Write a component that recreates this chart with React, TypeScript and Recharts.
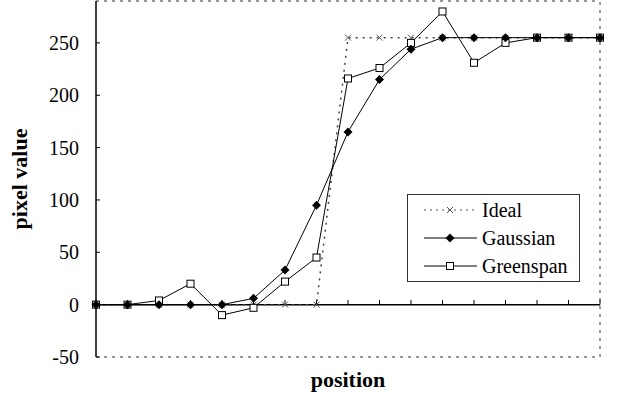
import { LineChart, Line, XAxis, YAxis, ReferenceLine } from "recharts";

const positions = [1, 2, 3, 4, 5, 6, 7, 8, 9, 10, 11, 12, 13, 14, 15, 16, 17];
const ideal = [0, 0, 0, 0, 0, 0, 0, 0, 255, 255, 255, 255, 255, 255, 255, 255, 255];
const gaussian = [0, 0, 0, 0, 0, 6, 33, 95, 165, 215, 244, 255, 255, 255, 255, 255, 255];
const greenspan = [0, 0, 4, 20, -10, -3, 22, 45, 216, 226, 250, 280, 231, 250, 255, 255, 255];
const yTicks = [-50, 0, 50, 100, 150, 200, 250];

const data = positions.map((p, i) => ({
  pos: p,
  ideal: ideal[i],
  gaussian: gaussian[i],
  greenspan: greenspan[i],
}));

const FONT = "Liberation Serif, Times New Roman, serif";

function Cross({ cx, cy }: any) {
  if (cx == null || cy == null) return null;
  return (
    <g stroke="#555" strokeWidth={1}>
      <line x1={cx - 3} y1={cy - 3} x2={cx + 3} y2={cy + 3} />
      <line x1={cx - 3} y1={cy + 3} x2={cx + 3} y2={cy - 3} />
    </g>
  );
}

function Diamond({ cx, cy }: any) {
  if (cx == null || cy == null) return null;
  return <polygon points={`${cx},${cy - 4.5} ${cx + 4.5},${cy} ${cx},${cy + 4.5} ${cx - 4.5},${cy}`} fill="#000" />;
}

function Square({ cx, cy }: any) {
  if (cx == null || cy == null) return null;
  return <rect x={cx - 3.5} y={cy - 3.5} width={7} height={7} fill="#fff" stroke="#000" strokeWidth={1} />;
}

function YTick({ x, y, payload }: any) {
  return (
    <g>
      <line x1={x + 17} y1={y} x2={x + 21} y2={y} stroke="#000" />
      <text x={x} y={y} dy={7} textAnchor="end" fontFamily={FONT} fontSize={20} fill="#000">
        {payload.value}
      </text>
    </g>
  );
}

function LegendBox() {
  const items = [
    { name: "Ideal", dash: "2 4", color: "#555", marker: "cross" },
    { name: "Gaussian", dash: undefined, color: "#000", marker: "diamond" },
    { name: "Greenspan", dash: undefined, color: "#000", marker: "square" },
  ];
  return (
    <div
      style={{
        position: "absolute",
        left: 407,
        top: 194,
        width: 173,
        height: 88,
        boxSizing: "border-box",
        border: "1.5px solid #333",
        background: "#fff",
        paddingTop: 1,
      }}
    >
      {items.map((it) => (
        <div key={it.name} style={{ display: "flex", alignItems: "center", height: 28 }}>
          <svg width={74} height={28}>
            <line x1={16} y1={14} x2={69} y2={14} stroke={it.color} strokeDasharray={it.dash} />
            {it.marker === "cross" && <Cross cx={42} cy={14} />}
            {it.marker === "diamond" && <Diamond cx={42} cy={14} />}
            {it.marker === "square" && <Square cx={42} cy={14} />}
          </svg>
          <span style={{ fontFamily: FONT, fontSize: 20, color: "#000", lineHeight: "28px" }}>{it.name}</span>
        </div>
      ))}
    </div>
  );
}

export default function App() {
  return (
    <div style={{ position: "absolute", left: 0, top: 0, width: 620, height: 397, background: "#fff" }}>
      <LineChart width={620} height={397} data={data} margin={{ top: 1, right: 20, bottom: 0, left: 0 }}>
        <XAxis
          dataKey="pos"
          height={40}
          tick={false}
          tickLine={false}
          axisLine={false}
          label={{
            value: "position",
            position: "insideBottom",
            offset: 10,
            style: { fontFamily: FONT, fontSize: 22, fontWeight: "bold", fill: "#000" },
          }}
        />
        <YAxis
          width={96}
          domain={[-50, 290]}
          ticks={yTicks}
          interval={0}
          tickLine={false}
          tickSize={0}
          tickMargin={17}
          tick={<YTick />}
          axisLine={{ stroke: "#000", strokeWidth: 1.5 }}
          label={{
            value: "pixel value",
            angle: -90,
            position: "insideLeft",
            offset: 19,
            style: { textAnchor: "middle", fontFamily: FONT, fontSize: 22, fontWeight: "bold", fill: "#000" },
          }}
        />
        <ReferenceLine y={290} stroke="#333" strokeDasharray="3 5" />
        <ReferenceLine y={-50} stroke="#333" strokeDasharray="3 5" />
        <ReferenceLine x={positions[positions.length - 1]} stroke="#333" strokeDasharray="3 5" />
        <ReferenceLine y={0} stroke="#000" strokeWidth={1.5} />
        {positions.map((p) => (
          <ReferenceLine
            key={p}
            segment={[
              { x: p, y: 0 },
              { x: p, y: 4.5 },
            ]}
            stroke="#000"
          />
        ))}
        <Line
          dataKey="ideal"
          name="Ideal"
          stroke="#444"
          strokeDasharray="2 5"
          strokeWidth={1.5}
          dot={<Cross />}
          activeDot={false}
          isAnimationActive={false}
        />
        <Line
          dataKey="greenspan"
          name="Greenspan"
          stroke="#000"
          strokeWidth={1}
          dot={<Square />}
          activeDot={false}
          isAnimationActive={false}
        />
        <Line
          dataKey="gaussian"
          name="Gaussian"
          stroke="#000"
          strokeWidth={1}
          dot={<Diamond />}
          activeDot={false}
          isAnimationActive={false}
        />
      </LineChart>
      <LegendBox />
    </div>
  );
}
